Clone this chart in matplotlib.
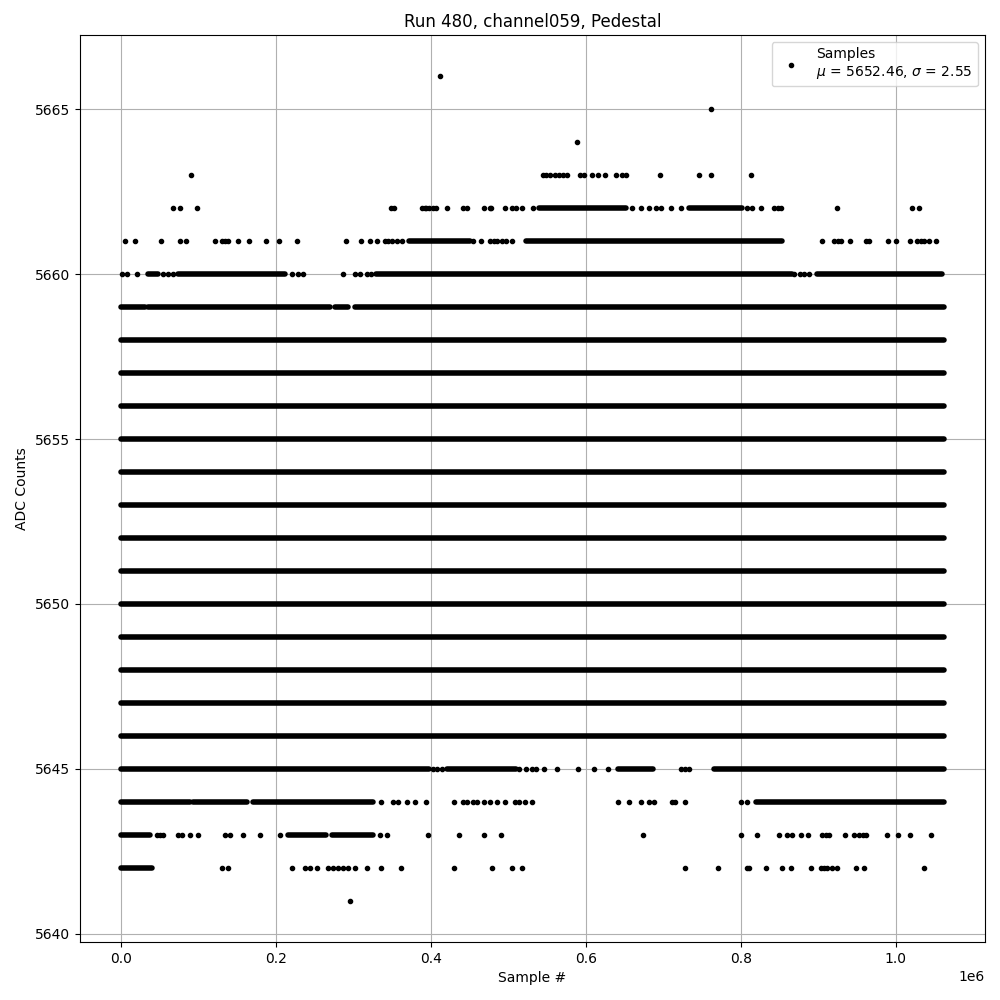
import numpy as np
import matplotlib
matplotlib.use("Agg")
import matplotlib.pyplot as plt

SCALE = 1e6  # x values below are in units of 1e6 samples

# Levels that are densely filled over the whole run
full_levels = [5646, 5647, 5648, 5649, 5650, 5651, 5652, 5653, 5654, 5655, 5656, 5657, 5658]
full_range = (0.0, 1.062)

# Dense stretches (start, end) for partially filled levels
dense_5659 = [(0.0, 0.031), (0.035, 0.269), (0.276, 0.293), (0.302, 1.062)]
dense_5660 = [(0.035, 0.048), (0.073, 0.211), (0.329, 0.866), (0.898, 1.059)]
dense_5661 = [(0.372, 0.450), (0.523, 0.853)]
dense_5662 = [(0.540, 0.652), (0.733, 0.802)]
dense_5645 = [(0.0, 0.398), (0.420, 0.510), (0.642, 0.686), (0.765, 1.062)]
dense_5644 = [(0.0, 0.089), (0.093, 0.162), (0.170, 0.325), (0.820, 1.062)]
dense_5643 = [(0.0, 0.037), (0.215, 0.265), (0.272, 0.325)]
dense_5642 = [(0.0, 0.040)]

# Isolated samples
sparse_5666 = [0.411]
sparse_5665 = [0.762]
sparse_5664 = [0.588]
sparse_5663 = [0.090, 0.544, 0.549, 0.554, 0.560, 0.565, 0.570, 0.576, 0.592, 0.598,
               0.608, 0.615, 0.624, 0.639, 0.646, 0.652, 0.695, 0.746, 0.762, 0.813]
sparse_5662 = [0.067, 0.076, 0.098, 0.348, 0.352, 0.389, 0.392, 0.394, 0.398, 0.402,
               0.407, 0.420, 0.441, 0.447, 0.469, 0.476, 0.478, 0.496, 0.504, 0.510,
               0.518, 0.531, 0.660, 0.671, 0.682, 0.691, 0.697, 0.710, 0.723, 0.808,
               0.814, 0.826, 0.843, 0.848, 0.852, 0.924, 1.021, 1.030]
sparse_5661 = [0.005, 0.018, 0.052, 0.076, 0.084, 0.121, 0.130, 0.134, 0.138, 0.151,
               0.165, 0.187, 0.204, 0.227, 0.290, 0.309, 0.321, 0.330, 0.341, 0.345,
               0.349, 0.356, 0.363, 0.454, 0.465, 0.476, 0.481, 0.485, 0.492, 0.497,
               0.504, 0.905, 0.920, 0.925, 0.929, 0.941, 0.961, 0.966, 0.990, 1.000,
               1.018, 1.027, 1.032, 1.037, 1.043, 1.052]
sparse_5660 = [0.001, 0.007, 0.021, 0.054, 0.060, 0.067, 0.220, 0.228, 0.235, 0.287,
               0.302, 0.308, 0.317, 0.323, 0.869, 0.876, 0.882, 0.888]
sparse_5645 = [0.402, 0.408, 0.414, 0.514, 0.523, 0.530, 0.536, 0.546, 0.562, 0.590,
               0.610, 0.628, 0.723, 0.728, 0.733]
sparse_5644 = [0.336, 0.351, 0.357, 0.369, 0.379, 0.394, 0.430, 0.441, 0.447, 0.454,
               0.460, 0.468, 0.476, 0.485, 0.495, 0.508, 0.514, 0.521, 0.530, 0.642,
               0.656, 0.671, 0.682, 0.688, 0.711, 0.715, 0.728, 0.800, 0.808]
sparse_5643 = [0.046, 0.050, 0.054, 0.073, 0.079, 0.089, 0.099, 0.134, 0.140, 0.157,
               0.179, 0.205, 0.334, 0.343, 0.396, 0.436, 0.468, 0.490, 0.674, 0.800,
               0.821, 0.849, 0.860, 0.866, 0.878, 0.887, 0.905, 0.910, 0.914, 0.934,
               0.946, 0.952, 0.957, 0.961, 0.988, 1.003, 1.018, 1.046]
sparse_5642 = [0.130, 0.138, 0.220, 0.237, 0.244, 0.253, 0.267, 0.274, 0.280, 0.286,
               0.293, 0.302, 0.318, 0.336, 0.361, 0.430, 0.479, 0.505, 0.517, 0.728,
               0.771, 0.808, 0.811, 0.832, 0.853, 0.865, 0.890, 0.903, 0.907, 0.911,
               0.918, 0.924, 0.948, 0.959, 1.036]
sparse_5641 = [0.296]

mean_val = 5652.46
sigma_val = 2.55

dense = {5659: dense_5659, 5660: dense_5660, 5661: dense_5661, 5662: dense_5662,
         5645: dense_5645, 5644: dense_5644, 5643: dense_5643, 5642: dense_5642}
for lv in full_levels:
    dense[lv] = [full_range]
sparse = {5666: sparse_5666, 5665: sparse_5665, 5664: sparse_5664, 5663: sparse_5663,
          5662: sparse_5662, 5661: sparse_5661, 5660: sparse_5660, 5645: sparse_5645,
          5644: sparse_5644, 5643: sparse_5643, 5642: sparse_5642, 5641: sparse_5641}

fig = plt.figure(figsize=(10, 10), dpi=100)
ax = fig.add_axes([0.080, 0.058, 0.905, 0.907])

# dense stretches drawn as round-capped strokes as wide as a point marker
seg_y, seg_x0, seg_x1 = [], [], []
for lv, segs in dense.items():
    for a, b in segs:
        seg_y.append(lv)
        seg_x0.append(a * SCALE)
        seg_x1.append(b * SCALE)
ax.hlines(seg_y, seg_x0, seg_x1, colors='k', linewidth=4.0, capstyle='round', zorder=2)

px, py = [], []
for lv, xs in sparse.items():
    px.extend([v * SCALE for v in xs])
    py.extend([lv] * len(xs))
ax.plot(px, py, '.', color='k', linestyle='none',
        label='Samples\n$\\mu$ = %.2f, $\\sigma$ = %.2f' % (mean_val, sigma_val))

ax.set_title('Run 480, channel059, Pedestal')
ax.set_xlabel('Sample #')
ax.set_ylabel('ADC Counts')
ax.grid(True)
ax.legend(loc='upper right')

fig.savefig('out.png', dpi=100)
